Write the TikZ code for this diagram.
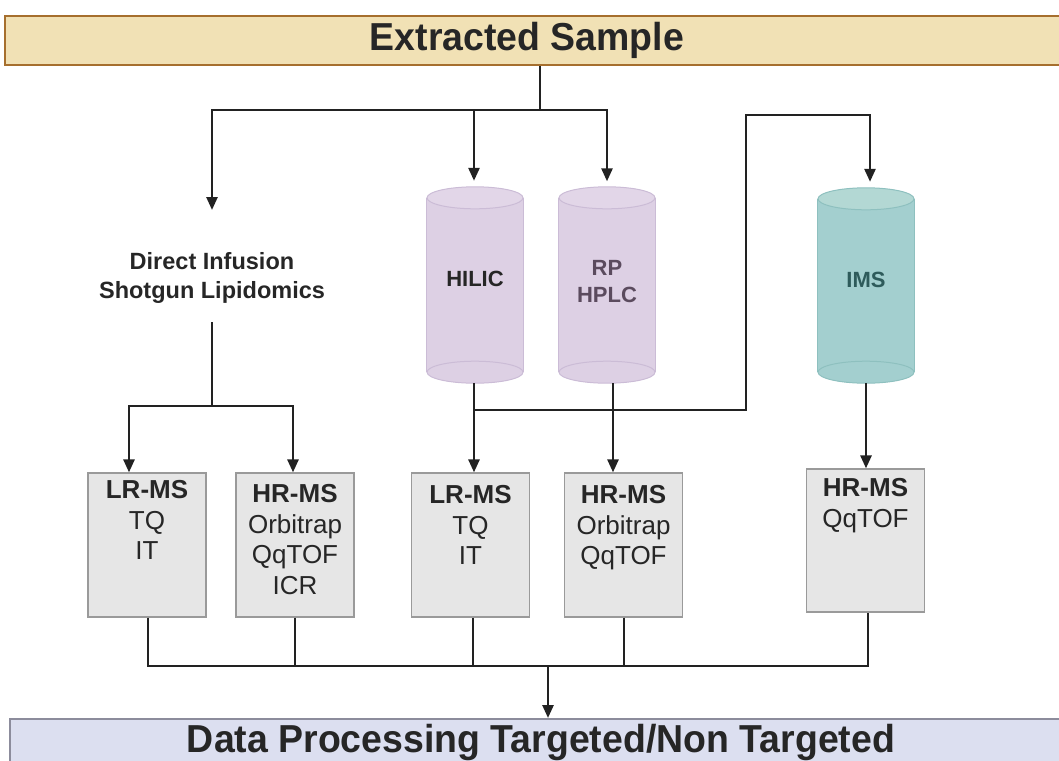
\documentclass[tikz,border=0pt]{standalone}
\usepackage{fontspec}
\setmainfont{Liberation Sans}
\newfontfamily\bannerfont[FakeStretch=0.96]{Liberation Sans}
\usetikzlibrary{arrows.meta,backgrounds}

\definecolor{linec}{HTML}{222222}
\definecolor{sampfill}{HTML}{F1E1B5}
\definecolor{sampedge}{HTML}{A66F2E}
\definecolor{datafill}{HTML}{DCDFF0}
\definecolor{dataedge}{HTML}{8C8C9C}
\definecolor{boxfill}{HTML}{E6E6E6}
\definecolor{boxedge}{HTML}{9A9A9A}
\definecolor{textc}{HTML}{262626}
\definecolor{lcfill}{HTML}{DDD0E4}
\definecolor{lcedge}{HTML}{CBBCD6}
\definecolor{lctop}{HTML}{E2D6E8}
\definecolor{imsfill}{HTML}{A3CFCF}
\definecolor{imsedge}{HTML}{8EC0BF}
\definecolor{imstop}{HTML}{B3D8D4}
\definecolor{rptext}{HTML}{5B4B5E}
\definecolor{imstext}{HTML}{2E5B5B}

% column drawn behind a named node, lowered by #5:
% body, bottom rim, sides, top rim
\newcommand{\columnshape}[5]{%
  \fill[#2] ([yshift=-11pt-#5]#1.north west) rectangle ([yshift=11pt-#5]#1.south east);
  \filldraw[fill=#2,draw=#3,line width=1pt] ([yshift=11pt-#5]#1.south) ellipse[x radius=48pt,y radius=11pt];
  \draw[#3,line width=1pt] ([yshift=-11pt-#5]#1.north west) -- ([yshift=11pt-#5]#1.south west);
  \draw[#3,line width=1pt] ([yshift=-11pt-#5]#1.north east) -- ([yshift=11pt-#5]#1.south east);
  \filldraw[fill=#4,draw=#3,line width=1pt] ([yshift=-11pt-#5]#1.north) ellipse[x radius=48pt,y radius=11pt];
}

\begin{document}
\begin{tikzpicture}[x=1pt,y=-1pt,
  flow/.style={draw=linec, line width=2.6pt},
  arr/.style={flow, -{Triangle[length=13pt,width=11pt]}},
  banner/.style={font=\bannerfont\bfseries\fontsize{39}{41}\selectfont, text=textc, inner sep=0pt},
  msbox/.style={draw=boxedge, fill=boxfill, line width=1.2pt, minimum width=118pt, minimum height=144pt, inner sep=0pt},
  mstext/.style={align=center, font=\fontsize{26}{30.5}\selectfont, text=textc, anchor=north, inner sep=0pt},
  column/.style={minimum width=96pt, minimum height=196pt, inner sep=0pt, align=center, font=\bfseries\fontsize{22}{27}\selectfont}
]
\useasboundingbox (0,0) rectangle (1059,760);
\clip (0,0) rectangle (1059,760);

% banners
\node[banner, draw=sampedge, fill=sampfill, line width=2.5pt, minimum width=1070pt, minimum height=49pt]
  (sample) at (540,40.5) {\hspace*{-26pt}Extracted Sample};
\node[banner, draw=dataedge, fill=datafill, line width=2pt, minimum width=1062pt, minimum height=46pt]
  (data) at (541,742) {Data Processing Targeted/Non Targeted};

% separation columns (labels sit a little above the middle)
\node[column, text=textc] (hilic) at (475,279) {HILIC};
\node[column, text=rptext] (rp) at (607,281.5) {RP\\HPLC};
\node[column, text=imstext, minimum height=195pt] (ims) at (866,279.5) {IMS};
\begin{scope}[on background layer]
  \columnshape{hilic}{lcfill}{lcedge}{lctop}{6pt}
  \columnshape{rp}{lcfill}{lcedge}{lctop}{3.5pt}
  \columnshape{ims}{imsfill}{imsedge}{imstop}{6pt}
\end{scope}

% direct infusion
\node[align=center, text=textc, font=\bfseries\fontsize{23.5}{29}\selectfont] (direct) at (212,278)
  {Direct Infusion\\Shotgun Lipidomics};

% mass spectrometers
\node[msbox] (b1) at (147,545) {};
\node[msbox] (b2) at (295,545) {};
\node[msbox] (b3) at (470.5,545) {};
\node[msbox] (b4) at (623.5,545) {};
\node[msbox, minimum height=143pt] (b5) at (865.5,540.5) {};
\node[mstext] (t1) at ([yshift=-8pt]b1.north) {\textbf{LR-MS}\\TQ\\IT};
\node[mstext] (t2) at ([yshift=-12pt]b2.north) {\textbf{HR-MS}\\Orbitrap\\QqTOF\\ICR};
\node[mstext] (t3) at ([yshift=-13pt]b3.north) {\textbf{LR-MS}\\TQ\\IT};
\node[mstext] (t4) at ([yshift=-13pt]b4.north) {\textbf{HR-MS}\\Orbitrap\\QqTOF};
\node[mstext] (t5) at ([yshift=-10pt]b5.north) {\textbf{HR-MS}\\QqTOF};

% junction points
\coordinate (split) at (540,110);
\coordinate (diin) at (212,210);
\coordinate (dfrom) at (212,322);
\coordinate (dsplit) at (212,406);
\coordinate (hj) at (474,410);
\coordinate (bend) at (746,115);
\coordinate (merge) at (548,666);

% sample to separations
\draw[flow] (sample.south -| split) -- (split);
\draw[arr] (split) -| ([yshift=2pt]rp.north);
\draw[arr] (split) -| (diin);
\draw[arr] ([xshift=-1pt]hilic.north |- split) -- ([xshift=-1pt]hilic.north);

% direct infusion to MS
\draw[flow] (dfrom) -- (dsplit);
\draw[arr] (dsplit) -| ([xshift=-18pt]b1.north);
\draw[arr] (dsplit) -| ([xshift=-2pt]b2.north);

% columns to MS
\draw[arr] ([xshift=-1pt,yshift=-6pt]hilic.south) -- ([xshift=-1pt]hilic.south |- b3.north);
\draw[arr] ([xshift=6pt,yshift=-3.5pt]rp.south) -- ([xshift=6pt]rp.south |- b4.north);
\draw[arr] ([yshift=-6pt]ims.south) -- (ims.south |- b5.north);
\draw[arr] (hj) -| (bend) -| ([xshift=4pt]ims.north);

% MS to data processing
\draw[flow] ([xshift=1pt]b1.south) -- ([xshift=1pt]b1.south |- merge) -- ([xshift=2.5pt]b5.south |- merge) -- ([xshift=2.5pt]b5.south);
\draw[flow] (b2.south) -- (b2.south |- merge);
\draw[flow] ([xshift=2.5pt]b3.south) -- ([xshift=2.5pt]b3.south |- merge);
\draw[flow] ([xshift=0.5pt]b4.south) -- ([xshift=0.5pt]b4.south |- merge);
\draw[arr] (merge) -- (merge |- data.north);
\end{tikzpicture}
\end{document}
